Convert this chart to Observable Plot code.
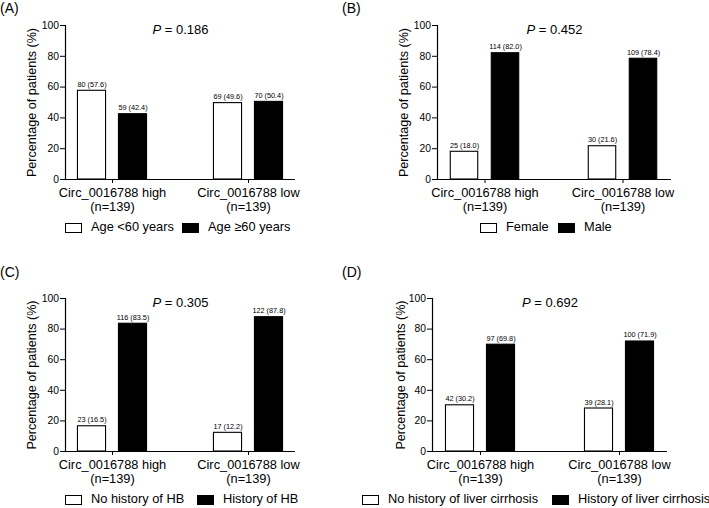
<!DOCTYPE html>
<html><head><meta charset="utf-8">
<script src="https://cdn.jsdelivr.net/npm/d3@7"></script>
<script src="https://cdn.jsdelivr.net/npm/@observablehq/plot@0.6"></script>
<style>
body{margin:0;background:#fff;}
#fig{position:relative;width:709px;height:508px;background:#fff;font-family:"Liberation Sans",Arial,Helvetica,sans-serif;color:#000;overflow:hidden}
.panel{position:absolute}
.panel svg{display:block}
.ptag{position:absolute;font-size:14px;line-height:1;white-space:nowrap}
.sw{position:absolute;width:17px;height:10px;box-sizing:border-box;border:1px solid #000}
.lt{position:absolute;font-size:12.8px;line-height:1;white-space:nowrap}
</style></head><body><div id="fig"></div>
<script>
// ---- data ----
const groups = ["Circ_0016788 high", "Circ_0016788 low"];
const groupSizes = ["(n=139)", "(n=139)"];
const panelTags = ["(A)", "(B)", "(C)", "(D)"];
const seriesA = ["Age <60 years", "Age \u226560 years"];
const seriesB = ["Female", "Male"];
const seriesC = ["No history of HB", "History of HB"];
const seriesD = ["No history of liver cirrhosis", "History of liver cirrhosis"];
const countsHigh = [[80, 59], [25, 114], [23, 116], [42, 97]];
const countsLow = [[69, 70], [30, 109], [17, 122], [39, 100]];
const pctHigh = [[57.6, 42.4], [18.0, 82.0], [16.5, 83.5], [30.2, 69.8]];
const pctLow = [[49.6, 50.4], [21.6, 78.4], [12.2, 87.8], [28.1, 71.9]];
const pValues = ["0.186", "0.452", "0.305", "0.692"];
const yTicks = [0, 20, 40, 60, 80, 100];
const yLabel = "Percentage of patients (%)";
const seriesNames = [seriesA, seriesB, seriesC, seriesD];

// ---- layout (positions / styles only) ----
const layout = [
  {left: 0,   top: 0,   mL: 65, mR: 59, h: 154, tag: [0, 1],     sw: [65, 182],  ly: 223, ylDx: -34},
  {left: 355, top: 0,   mL: 82, mR: 38, h: 154, tag: [342, 1],   sw: [480, 558], ly: 223, ylDx: -34},
  {left: 0,   top: 273, mL: 65, mR: 59, h: 153, tag: [0, 265],   sw: [65, 197],  ly: 495, ylDx: -34},
  {left: 355, top: 273, mL: 77, mR: 42, h: 153, tag: [342, 265], sw: [362, 552], ly: 495, ylDx: -32}
];
const W = 354, MT = 25, MB = 36, barW = 28, barGap = 13, padIn = 0.31;
const font = '"Liberation Sans", Arial, Helvetica, sans-serif';
const fig = document.getElementById("fig");

layout.forEach((L, p) => {
  const data = [];
  groups.forEach((g, gi) => {
    [0, 1].forEach(si => {
      const n = gi ? countsLow[p][si] : countsHigh[p][si];
      const pct = gi ? pctLow[p][si] : pctHigh[p][si];
      data.push({group: g, series: si, n, pct, label: `${n} (${pct.toFixed(1)})`});
    });
  });
  const plotW = W - L.mL - L.mR;
  const step = plotW / (2 - padIn);
  const bw = step * (1 - padIn);
  const inset = (bw - barW) / 2;
  const off = (barW + barGap) / 2;
  const s0 = data.filter(d => d.series === 0);
  const s1 = data.filter(d => d.series === 1);

  const svg = Plot.plot({
    width: W, height: MT + L.h + MB,
    marginTop: MT, marginBottom: MB, marginLeft: L.mL, marginRight: L.mR,
    style: {fontFamily: font, fontSize: "10px", color: "#000", background: "transparent", overflow: "visible"},
    x: {domain: groups, paddingInner: padIn, paddingOuter: 0, axis: null},
    y: {domain: [0, 100], axis: null},
    marks: [
      Plot.barY(s0, {x: "group", y: "pct", fill: "#fff", stroke: "#000", strokeWidth: 1.1, insetLeft: inset, insetRight: inset, dx: -off}),
      Plot.barY(s1, {x: "group", y: "pct", fill: "#000", stroke: "#000", strokeWidth: 1.1, insetLeft: inset, insetRight: inset, dx: off}),
      Plot.text(s0, {x: "group", y: "pct", text: "label", dx: -off, dy: -4, lineAnchor: "bottom", fontSize: 7.3, fill: "#000"}),
      Plot.text(s1, {x: "group", y: "pct", text: "label", dx: off, dy: -4, lineAnchor: "bottom", fontSize: 7.3, fill: "#000"}),
      Plot.ruleY([0], {stroke: "#000", strokeWidth: 1.2}),
      Plot.frame({anchor: "left", stroke: "#000", strokeWidth: 1.2}),
      Plot.axisY({ticks: yTicks, tickSize: 5, tickPadding: 1.5, fontSize: 10.3, label: null, tickFormat: d => String(d)}),
      Plot.axisX({tickSize: 4, tickPadding: 3.5, fontSize: 12.8, lineHeight: 1.1, label: null,
                  tickFormat: d => d + "\n" + groupSizes[groups.indexOf(d)]}),
      Plot.text([yLabel], {frameAnchor: "left", textAnchor: "middle", lineAnchor: "middle", rotate: -90, dx: L.ylDx, fontSize: 12.6, fill: "#000"}),
      Plot.text([pValues[p]], {frameAnchor: "top", textAnchor: "middle", dy: 8, lineAnchor: "bottom", fontSize: 13, fill: "#000",
                               text: d => "P = " + d})
    ]
  });
  d3.select(svg).selectAll("text").filter(function () { return this.textContent.startsWith("P = "); }).each(function () {
    const t = this.textContent;
    this.textContent = "";
    d3.select(this).append("tspan").attr("font-style", "italic").text("P");
    d3.select(this).append("tspan").text(t.slice(1));
  });

  const panel = document.createElement("div");
  panel.className = "panel";
  panel.style.left = L.left + "px";
  panel.style.top = L.top + "px";
  panel.appendChild(svg);
  fig.appendChild(panel);

  const tag = document.createElement("div");
  tag.className = "ptag";
  tag.style.left = L.tag[0] + "px";
  tag.style.top = L.tag[1] + "px";
  tag.textContent = panelTags[p];
  fig.appendChild(tag);

  seriesNames[p].forEach((name, si) => {
    const sw = document.createElement("div");
    sw.className = "sw";
    sw.style.left = L.sw[si] + "px";
    sw.style.top = L.ly + "px";
    sw.style.background = si ? "#000" : "#fff";
    fig.appendChild(sw);
    const lt = document.createElement("div");
    lt.className = "lt";
    lt.style.left = (L.sw[si] + 26) + "px";
    lt.style.top = (L.ly - 2) + "px";
    lt.textContent = name;
    fig.appendChild(lt);
  });
});
</script></body></html>
